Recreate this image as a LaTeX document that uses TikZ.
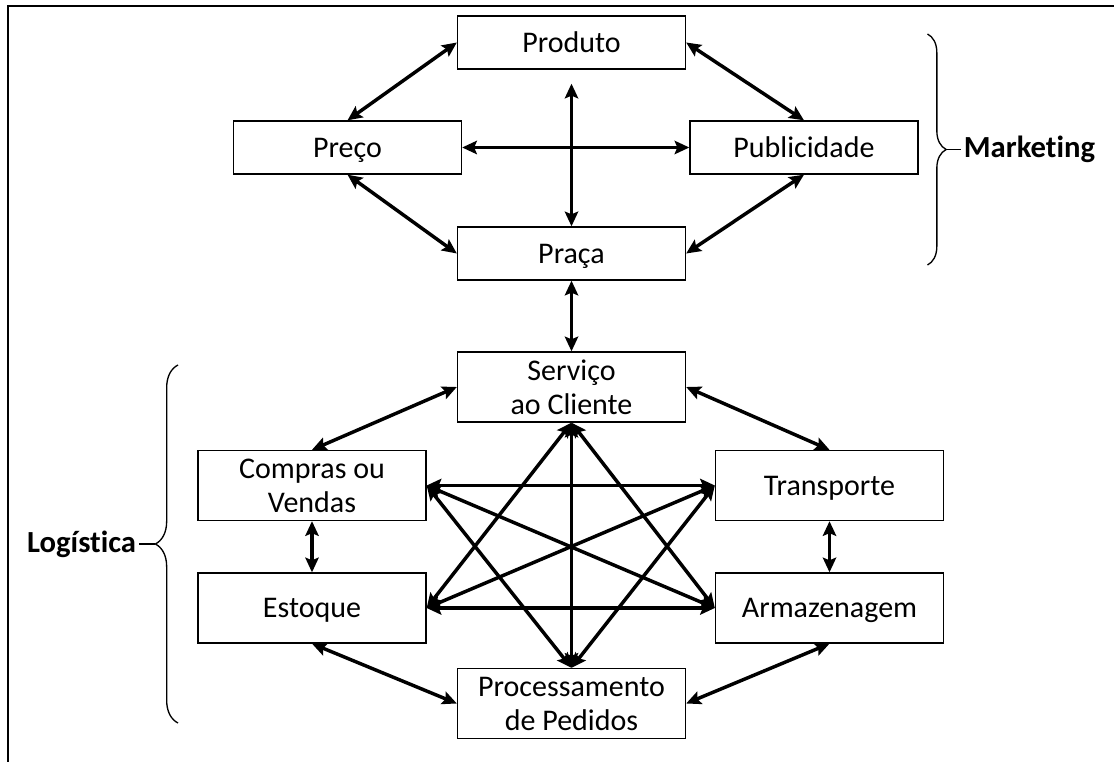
\documentclass[tikz,border=0pt]{standalone}
\usepackage{fontspec}
\setmainfont[Ligatures=NoCommon]{Carlito}
\usetikzlibrary{arrows.meta,decorations.pathreplacing}

\tikzset{
  box/.style={draw, line width=1pt, minimum width=171pt, inner sep=0pt,
    align=center, font=\fontsize{22.5}{25.5}\selectfont},
  oneline/.style={text height=14.5pt, text depth=0pt},
  short/.style={box, oneline, minimum height=39.75pt},
  tall/.style={box, minimum height=52.5pt},
  link/.style={{Stealth[length=11pt,width=10pt,inset=2pt]}-{Stealth[length=11pt,width=10pt,inset=2pt]},
    line width=2.6pt},
  curly/.style={decorate, line width=1pt},
  title/.style={inner sep=2pt, font=\fontsize{23}{26}\selectfont\bfseries},
}

\begin{document}
\begin{tikzpicture}[x=0.75pt, y=-0.75pt]
  \useasboundingbox (0,0) rectangle (1114,762) ;

  % frame
  \draw[line width=1.5pt] (8,762) -- (8,6) -- (1114,6) ;

  % marketing boxes
  \node[short] (produto)     at (571.5,42.5)  {Produto} ;
  \node[short] (preco)       at (347.5,147.5) {Preço} ;
  \node[short] (publicidade) at (804,147.5)   {Publicidade} ;
  \node[short] (praca)       at (571.5,253.5) {Praça} ;

  % logistics boxes
  \node[tall] (servico)               at (571.5,387)   {Serviço\\ao Cliente} ;
  \node[tall] (compras)               at (312,485.5)   {Compras ou\\Vendas} ;
  \node[tall, oneline] (estoque)      at (312,608)     {Estoque} ;
  \node[tall, oneline] (transporte)   at (829.5,485.5) {Transporte} ;
  \node[tall, oneline] (armazenagem)  at (829.5,608)   {Armazenagem} ;
  \node[tall] (processamento)         at (571.5,703.5) {Processamento\\de Pedidos} ;

  % marketing links
  \draw[link] (preco.north) -- (produto.west) ;
  \draw[link] (publicidade.north) -- (produto.east) ;
  \draw[link] (preco.south) -- (praca.west) ;
  \draw[link] (publicidade.south) -- (praca.east) ;
  \draw[link] (preco.east) -- (publicidade.west) ;
  \draw[link, shorten <=10.5pt] (produto.south) -- (praca.north) ;

  % marketing to logistics
  \draw[link] (praca.south) -- (servico.north) ;

  % outer logistics links
  \draw[link] (compras.north) -- (servico.west) ;
  \draw[link] (transporte.north) -- (servico.east) ;
  \draw[link] (estoque.south) -- (processamento.west) ;
  \draw[link] (armazenagem.south) -- (processamento.east) ;
  \draw[link] (compras.south) -- (estoque.north) ;
  \draw[link] (transporte.south) -- (armazenagem.north) ;

  % inner star
  \draw[link] (servico.south) -- (processamento.north) ;
  \draw[link] (servico.south) -- (estoque.east) ;
  \draw[link] (servico.south) -- (armazenagem.west) ;
  \draw[link] (processamento.north) -- (compras.east) ;
  \draw[link] (processamento.north) -- (transporte.west) ;
  \draw[link] (compras.east) -- (transporte.west) ;
  \draw[link] (estoque.east) -- (armazenagem.west) ;
  \draw[link] (compras.east) -- (armazenagem.west) ;
  \draw[link] (estoque.east) -- (transporte.west) ;

  % marketing brace
  \draw[curly, decoration={brace, amplitude=14pt}] (927.5,34) -- (927.5,265) ;
  \coordinate (mkttip) at (946,149.5) ;
  \node[title, anchor=west] (marketing) at (961,149.5) {Marketing} ;
  \draw[line width=1pt] (mkttip) -- (marketing.west) ;

  % logistics brace
  \draw[curly, decoration={brace, amplitude=17pt}] (178,723) -- (178,365) ;
  \coordinate (logtip) at (155,544) ;
  \node[title, anchor=east] (logistica) at (139,544) {Logística} ;
  \draw[line width=1pt] (logtip) -- (logistica.east) ;

\end{tikzpicture}
\end{document}
